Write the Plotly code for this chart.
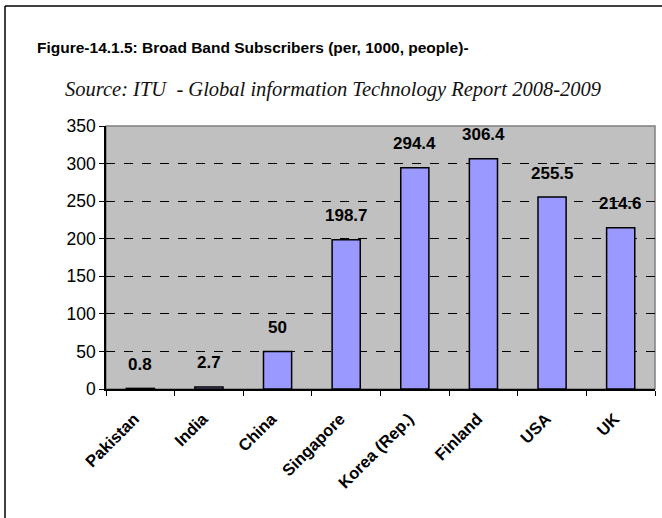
import plotly.graph_objects as go

countries = ["Pakistan", "India", "China", "Singapore", "Korea (Rep.)", "Finland", "USA", "UK"]
subscribers = [0.8, 2.7, 50, 198.7, 294.4, 306.4, 255.5, 214.6]
value_labels = ["0.8", "2.7", "50", "198.7", "294.4", "306.4", "255.5", "214.6"]
y_ticks = [0, 50, 100, 150, 200, 250, 300, 350]

W, H = 662, 518
L, R, T, B = 106, 7, 126, 129
pw, ph = W - L - R, H - T - B
SANS = "Liberation Sans, Arial, sans-serif"

def px(x):
    return (x - L) / pw

def py(y):
    return (H - B - y) / ph

fig = go.Figure()
fig.add_trace(go.Bar(
    x=countries, y=subscribers, width=0.41,
    marker=dict(color="#9999FF", line=dict(color="black", width=1.5)),
    hoverinfo="x+y",
))

for c, v, t in zip(countries, subscribers, value_labels):
    fig.add_annotation(x=c, y=v, text="<b>" + t + "</b>", showarrow=False, yshift=24,
                       font=dict(family=SANS, size=17, color="black"),
                       xref="x", yref="y")

fig.add_annotation(xref="paper", yref="paper", x=px(35), y=py(47), xanchor="left", yanchor="middle",
                   text="<b>Figure-14.1.5: Broad Band Subscribers (per, 1000, people)-</b>",
                   showarrow=False, font=dict(family=SANS, size=15.5, color="black"))
fig.add_annotation(xref="paper", yref="paper", x=px(333), y=py(90), xanchor="center", yanchor="middle",
                   text="<i>Source: ITU  - Global information Technology Report 2008-2009</i>",
                   showarrow=False, font=dict(family="Liberation Serif, Times New Roman, serif", size=20.5, color="#111"))

# outer frame (left and top edges)
fig.add_shape(type="line", xref="paper", yref="paper", x0=px(5), y0=py(6), x1=px(662), y1=py(6),
              line=dict(color="black", width=1.5))
fig.add_shape(type="line", xref="paper", yref="paper", x0=px(5), y0=py(6), x1=px(5), y1=py(518),
              line=dict(color="black", width=1.5))
# plot area border top/right
fig.add_shape(type="rect", xref="paper", yref="paper", x0=0, y0=0, x1=1, y1=1,
              line=dict(color="#808080", width=1.5), layer="below")

fig.update_layout(
    width=W, height=H,
    margin=dict(l=L, r=R, t=T, b=B, autoexpand=False),
    paper_bgcolor="white", plot_bgcolor="#C0C0C0",
    showlegend=False,
    xaxis=dict(
        tickangle=-45, tickfont=dict(family=SANS, size=16.5, color="black"),
        ticks="outside", ticklen=5, tickcolor="black", tickson="boundaries",
        showline=True, linecolor="black", linewidth=1.5, showgrid=False,
        range=[-0.5, 7.5], automargin=False,
        ticklabelstandoff=12, ticklabelshift=-6,
        tickprefix="<b>", ticksuffix="</b>",
    ),
    yaxis=dict(
        range=[0, 350], tickvals=y_ticks, ticktext=[str(v) for v in y_ticks],
        tickfont=dict(family=SANS, size=17.5, color="black"),
        ticks="outside", ticklen=5, tickcolor="black",
        showline=True, linecolor="black", linewidth=1.5, automargin=False,
        showgrid=True, gridcolor="black", gridwidth=1, griddash="dash",
        zeroline=False,
    ),
)

fig.write_html("out.html", config={"displayModeBar": False},
               post_script="document.body.style.margin='0';document.body.style.overflow='hidden';")
